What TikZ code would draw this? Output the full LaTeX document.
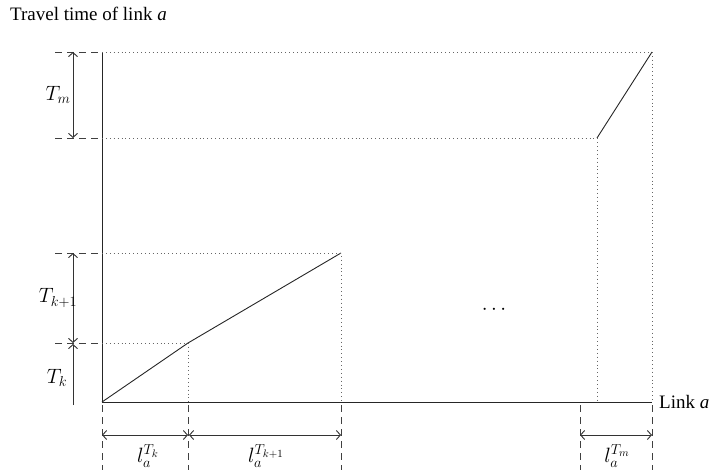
\documentclass[tikz,border=0pt]{standalone}
\usepackage{fontspec}
\setmainfont{Liberation Serif}
\usetikzlibrary{arrows.meta}
\begin{document}
\begin{tikzpicture}[x=1pt,y=-1pt,
  axis/.style={line width=0.95pt,black!85},
  curve/.style={line width=0.9pt,black!85},
  guide/.style={line width=0.9pt,black!60,dash pattern=on 0.9pt off 3pt},
  tick/.style={line width=0.9pt,black!75,dash pattern=on 7pt off 5pt},
  dim/.style={line width=0.9pt,black!80,{Straight Barb[length=4pt,width=9pt]}-{Straight Barb[length=4pt,width=9pt]}},
  dimup/.style={line width=0.9pt,black!80,-{Straight Barb[length=4pt,width=9pt]}},
  txt/.style={font=\fontsize{19}{21}\selectfont,inner sep=0pt},
  lbl/.style={font=\fontsize{21}{23}\selectfont,inner sep=0pt}]
\useasboundingbox (0,0) rectangle (714,476);
% key points
\coordinate (O) at (102,402);
\coordinate (Ytop) at (102,52);
\coordinate (Xend) at (652,402);
\coordinate (P1) at (188,343);
\coordinate (P2) at (341,253);
\coordinate (P3) at (597,138);
\coordinate (P4) at (652,52);
% axes
\draw[axis] (Ytop) -- (O) -- (Xend);
% curves
\draw[curve] (O) -- (P1) -- (P2);
\draw[curve] (P3) -- (P4);
% dotted guides
\draw[guide] (Ytop) -- (P4) -- (P4 |- O);
\draw[guide] (102,138) -- (P3) -- (P3 |- O);
\draw[guide] (102,253) -- (P2) -- (P2 |- O);
\draw[guide] (102,343) -- (P1) -- (P1 |- O);
% left dashed ticks
\foreach \yy in {52,138,253,343} \draw[tick] (55,\yy) -- (102,\yy);
% bottom dashed ticks
\foreach \xx in {102,188,341,580,652} \draw[tick] (\xx,405) -- (\xx,470);
% vertical dimension arrows
\coordinate (a1) at (73,52); \coordinate (a2) at (73,138);
\coordinate (b1) at (73,253); \coordinate (b2) at (73,343);
\coordinate (c1) at (73,405); \coordinate (c2) at (73,344);
\draw[dim] (a1) -- (a2);
\draw[dim] (b1) -- (b2);
\draw[dimup] (c1) -- (c2);
% horizontal dimension arrows
\coordinate (d1) at (102,435); \coordinate (d2) at (188,435);
\coordinate (e1) at (189,435); \coordinate (e2) at (341,435);
\coordinate (f1) at (580,435); \coordinate (f2) at (652,435);
\draw[dim] (d1) -- (d2);
\draw[dim] (e1) -- (e2);
\draw[dim] (f1) -- (f2);
% labels
\node[txt,anchor=west] (title) at (10,14) {Travel time of link \textit{a}};
\node[lbl] (Tm) at (58,95) {$T_m$};
\node[lbl] (Tk1) at (58,298) {$T_{k+1}$};
\node[lbl] (Tk) at (57,378) {$T_k$};
\node[lbl] (lk) at (148,456) {$l_a^{T_k}$};
\node[lbl] (lk1) at (266,456) {$l_a^{T_{k+1}}$};
\node[lbl] (lm) at (617,456) {$l_a^{T_m}$};
\node[txt,anchor=west] (link) at (659,402) {Link \textit{a}};
\node[lbl] (dots) at (494,310) {$\cdots$};
\end{tikzpicture}
\end{document}
